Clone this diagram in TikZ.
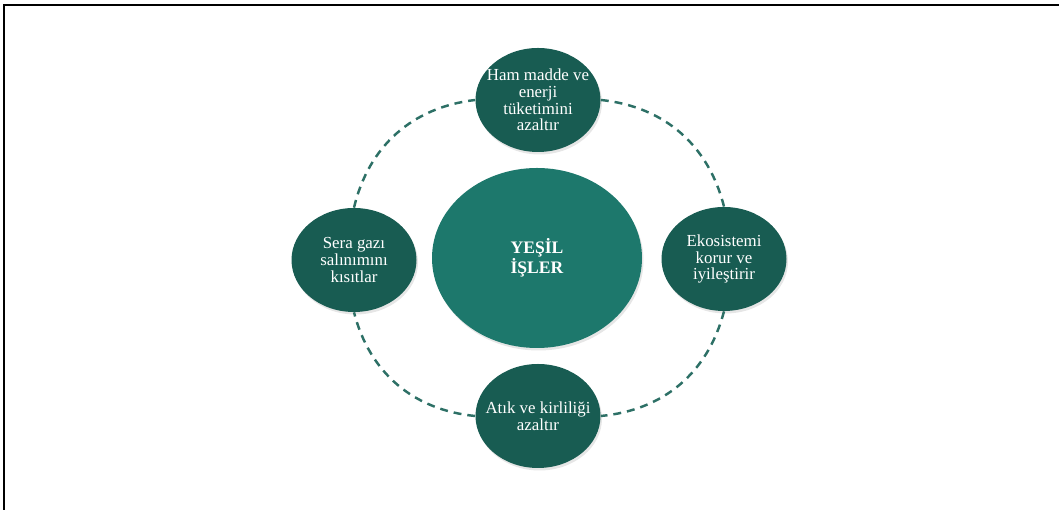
\documentclass[tikz,border=0pt]{standalone}
\usepackage{fontspec}
\setmainfont{Liberation Serif}
\usetikzlibrary{shapes.geometric,shadows}

\definecolor{koyu}{RGB}{24,92,82}
\definecolor{orta}{RGB}{29,120,108}
\definecolor{kesik}{RGB}{45,112,102}

\begin{document}
\begin{tikzpicture}

      \useasboundingbox (0,0) rectangle (21.18,10.2);
      \draw[line width=1.1pt] (0.08,0) -- (0.08,10.1) -- (21.18,10.1);

      \begin{scope}[every node/.style={ellipse,fill=koyu,text=white,align=center,
          inner sep=-0.4cm,minimum width=2.5cm,minimum height=2.08cm,
          font=\fontsize{9.6}{9.4}\selectfont,
          drop shadow={shadow xshift=0.03cm,shadow yshift=-0.05cm,opacity=0.2}}]
        \node (1) at (10.76,8.20) {Ham madde ve\\enerji\\tüketimini\\azaltır};
        \node (2) at (14.48,5.02) {Ekosistemi\\korur ve\\iyileştirir};
        \node (3) at (10.76,1.88) {Atık ve kirliliği\\azaltır};
        \node (4) at (7.08,5.00)  {Sera gazı\\salınımını\\kısıtlar};
        \node[fill=orta,inner sep=0pt,minimum width=4.2cm,minimum height=3.6cm,
          font=\fontsize{10}{10.3}\selectfont\bfseries] (0) at (10.74,5.04) {YEŞİL\\İŞLER};
      \end{scope}

      \begin{scope}[every edge/.style={draw=kesik,line width=1.4pt,dash pattern=on 4.5pt off 3.4pt}]
        \path (4.north) edge[bend left=35] (1.west);
        \path (1.east)  edge[bend left=35] (2.north);
        \path (2.south) edge[bend left=35] (3.east);
        \path (3.west)  edge[bend left=35] (4.south);
      \end{scope}

    \end{tikzpicture}
\end{document}
